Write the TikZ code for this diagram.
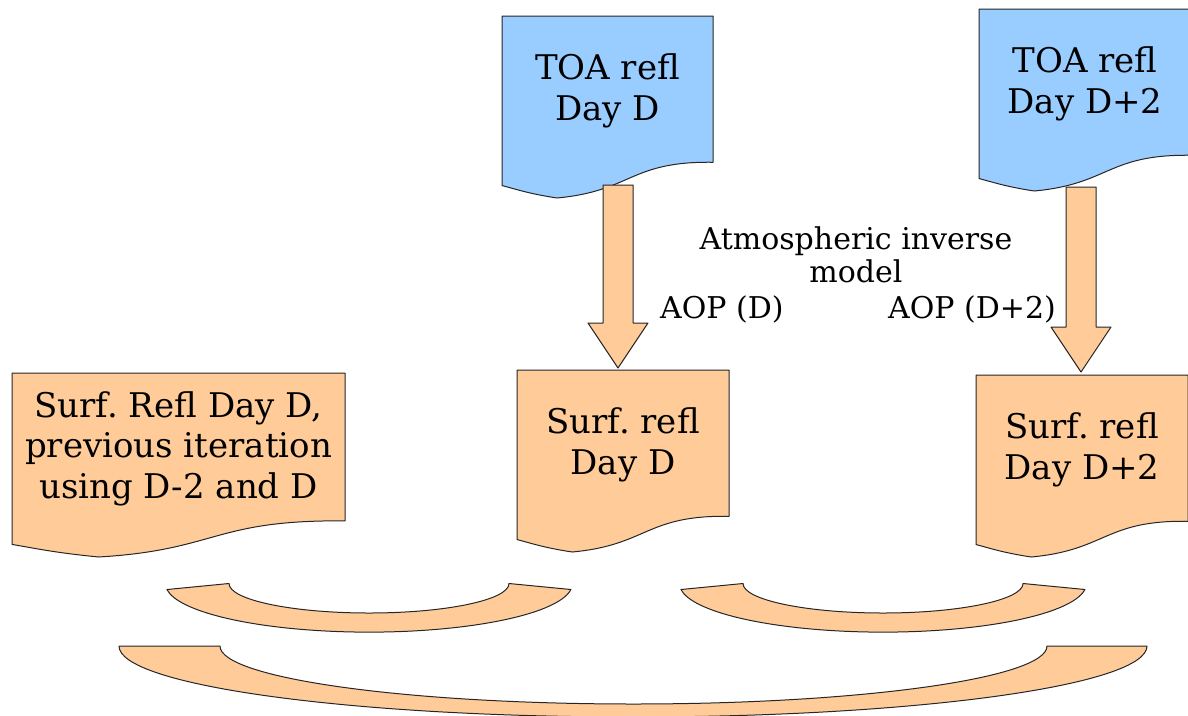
\documentclass[tikz,border=0pt]{standalone}
\usepackage{fontspec}
\setmainfont{DejaVu Serif}
\usetikzlibrary{calc}
\frenchspacing
\definecolor{docblue}{HTML}{99CCFF}
\definecolor{docorange}{HTML}{FFCC99}
\tikzset{
  shapeline/.style={draw=black!85, line width=1pt, line join=round},
  boxtext/.style={align=center, font=\fontsize{34}{40.5}\selectfont, inner sep=0pt},
  notetext/.style={align=center, font=\fontsize{30}{33}\selectfont, inner sep=0pt},
  blockarrow/.style={shapeline, fill=docorange},
}
% document shape: #1 name, #2 x, #3 y, #4 w, #5 h, #6 colour
\newcommand\docshape[6]{%
  \path[shapeline, fill=#6] (#2,#3) -- ({#2+#4},#3) -- ({#2+#4},{#3+0.8037*#5})
    .. controls ({#2+0.6042*#4},{#3+0.7972*#5}) and ({#2+0.6176*#4},{#3+0.9616*#5}) .. ({#2+0.2602*#4},{#3+#5})
    .. controls ({#2+0.1324*#4},{#3+0.9769*#5}) and ({#2+0.0856*#4},{#3+0.9583*#5}) .. (#2,{#3+0.9315*#5}) -- cycle;
  \coordinate (#1-c) at ({#2+#4/2},{#3+0.41*#5});
}
% small curved band: #1 centre x
\newcommand\smallband[1]{%
  \path[shapeline, fill=docorange] ({#1-201.9},589.5) -- ({#1-140},583.5)
    arc[start angle=180, end angle=360, x radius=140pt, y radius=29.5pt]
    -- ({#1+201.9},589.5)
    arc[start angle=-6.97, end angle=-173.03, x radius=203.5pt, y radius=48.5pt] -- cycle;
}
\newcommand\blockarr[2]{%
  \path[blockarrow] ($(#1)+(-15,0)$) -- ($(#1)+(15,0)$) -- ($(#2)+(15,-45)$) -- ($(#2)+(30,-45)$)
    -- (#2) -- ($(#2)+(-30,-45)$) -- ($(#2)+(-15,-45)$) -- cycle;
}
\begin{document}
\begin{tikzpicture}[x=1pt, y=-1pt]
\useasboundingbox (0,0) rectangle (1188,715);
\clip (0,0) rectangle (1188,715);

% documents
\docshape{toaD}{502}{16}{211}{182}{docblue}
\docshape{toaDD}{979}{9}{212}{182}{docblue}
\docshape{prev}{12}{373}{333}{184}{docorange}
\docshape{surfD}{517}{370}{212}{182}{docorange}
\docshape{surfDD}{976}{375}{212}{182}{docorange}

\node[boxtext] (toaDt) at (toaD-c) {TOA refl\\Day D};
\node[boxtext] (toaDDt) at (toaDD-c) {TOA refl\\Day D+2};
\node[boxtext] (prevt) at (prev-c) {Surf. Refl Day D,\\previous iteration\\using D-2 and D};
\node[boxtext] (surfDt) at (surfD-c) {Surf. refl\\Day D};
\node[boxtext] (surfDDt) at (surfDD-c) {Surf. refl\\Day D+2};

% block arrows
\coordinate (aLtop) at (618,185);
\coordinate (aLtip) at (618,368);
\coordinate (aRtop) at (1081,187);
\coordinate (aRtip) at (1081,372);
\blockarr{aLtop}{aLtip}
\blockarr{aRtop}{aRtip}

% annotations
\node[notetext] (atm) at (856,255) {Atmospheric inverse\\model};
\node[notetext, anchor=base west] (aopD) at (660,318) {AOP (D)};
\node[notetext, anchor=base west] (aopDD) at (888,318) {AOP (D+2)};

% curved bands
\smallband{369}
\smallband{883}
\path[shapeline, fill=docorange] (119,646) -- (220,646)
  arc[start angle=180, end angle=360, x radius=413.5pt, y radius=58pt]
  -- (1147,646)
  arc[start angle=0, end angle=-180, x radius=514pt, y radius=71pt] -- cycle;
\end{tikzpicture}
\end{document}
